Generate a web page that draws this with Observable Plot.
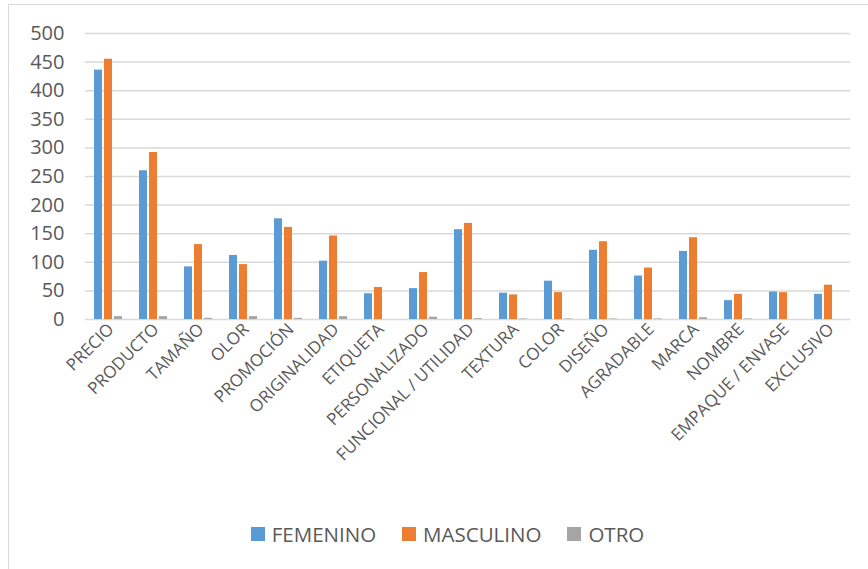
<!DOCTYPE html>
<html>
<head>
<meta charset="utf-8">
<script src="https://cdn.jsdelivr.net/npm/d3@7"></script>
<script src="https://cdn.jsdelivr.net/npm/@observablehq/plot@0.6"></script>
<style>
  html, body { margin: 0; padding: 0; background: #fff; overflow: hidden; width: 868px; height: 569px; }
  #frame { position: absolute; left: 8px; top: 4px; width: 880px; height: 600px; border: 1.5px solid #d9d9d9; box-sizing: border-box; }
  #chart { position: absolute; left: 0; top: 0; }
  #legend { position: absolute; left: 0; top: 520px; width: 868px; padding-left: 27px; box-sizing: border-box;
            display: flex; justify-content: center; align-items: center; font-family: "Open Sans", sans-serif;
            font-size: 20.5px; color: #595959; }
  .item { display: flex; align-items: center; margin: 0 13px; }
  .sw { width: 14px; height: 14px; margin-right: 7px; }
</style>
</head>
<body>
<div id="frame"></div>
<div id="chart"></div>
<div id="legend"></div>
<script>
const categories = ["PRECIO","PRODUCTO","TAMAÑO","OLOR","PROMOCIÓN","ORIGINALIDAD","ETIQUETA","PERSONALIZADO","FUNCIONAL / UTILIDAD","TEXTURA","COLOR","DISEÑO","AGRADABLE","MARCA","NOMBRE","EMPAQUE / ENVASE","EXCLUSIVO"];
const series = ["FEMENINO","MASCULINO","OTRO"];
const femenino  = [436, 260, 92, 112, 176, 102, 45, 54, 157, 46, 67, 121, 76, 119, 33, 48, 44];
const masculino = [455, 292, 131, 96, 161, 146, 56, 82, 168, 43, 47, 136, 90, 143, 44, 47, 60];
const otro      = [5, 5, 2, 5, 2, 5, 0, 4, 1.5, 1, 1, 1, 1, 3, 1, 0, 0];
const colors = ["#5b9bd5", "#ed7d31", "#a5a5a5"];
const yTicks = [0, 50, 100, 150, 200, 250, 300, 350, 400, 450, 500];

const values = [femenino, masculino, otro];
const data = [];
categories.forEach((c, i) => series.forEach((s, j) => data.push({cat: c, serie: s, value: values[j][i]})));

const chart = Plot.plot({
  width: 868,
  height: 500,
  marginLeft: 85,
  marginRight: 18,
  marginTop: 33,
  marginBottom: 181,
  style: {fontFamily: "'Open Sans', sans-serif", background: "transparent"},
  fx: {domain: categories, padding: 0, axis: null},
  x: {domain: series, axis: null, paddingInner: 0.2, paddingOuter: 0.66},
  y: {domain: [0, 500], axis: null},
  color: {domain: series, range: colors},
  marks: [
    Plot.ruleY(yTicks, {y: d => d, stroke: "#d9d9d9", strokeWidth: 1.5}),
    Plot.barY(data, {fx: "cat", x: "serie", y: "value", fill: "serie"}),
    Plot.axisY(yTicks, {tickSize: 0, tickPadding: 21, fontSize: 20, fill: "#595959", tickFormat: d => String(d), label: null}),
    Plot.axisFx({anchor: "bottom", tickRotate: -45, tickSize: 0, tickPadding: 7, dx: 3, fontSize: 17, fill: "#595959", label: null})
  ]
});
document.getElementById("chart").appendChild(chart);

const legend = document.getElementById("legend");
series.forEach((s, j) => {
  const it = document.createElement("div");
  it.className = "item";
  const sw = document.createElement("div");
  sw.className = "sw";
  sw.style.background = colors[j];
  const t = document.createElement("span");
  t.textContent = s;
  it.appendChild(sw); it.appendChild(t);
  legend.appendChild(it);
});
</script>
</body>
</html>
